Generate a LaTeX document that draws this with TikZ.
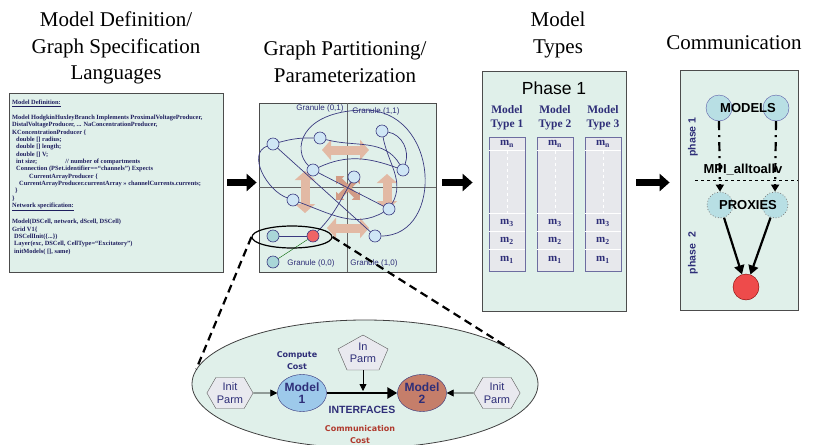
\documentclass[tikz,border=0pt]{standalone}
\usepackage{fontspec}
\setmainfont{Liberation Serif}
\setsansfont{Liberation Sans}
\newfontfamily\costfont{DejaVu Sans}
\usetikzlibrary{arrows.meta, shapes.geometric, shapes.symbols}
\definecolor{panel}{HTML}{E0F0EA}
\definecolor{navy}{HTML}{2E2E78}
\definecolor{codeblue}{HTML}{1E1E5E}
\definecolor{edge}{HTML}{3A3A80}
\definecolor{cellblue}{HTML}{CFE6F5}
\definecolor{cellteal}{HTML}{A9D6D8}
\definecolor{cellred}{HTML}{F06466}
\definecolor{colgray}{HTML}{E7E8EC}
\definecolor{swirl}{HTML}{E2B9A4}
\definecolor{swirldark}{HTML}{D29C86}
\definecolor{modelone}{HTML}{9DC9EA}
\definecolor{modeltwo}{HTML}{C57E6A}
\definecolor{parmgray}{HTML}{E9E9EF}
\definecolor{commblue}{HTML}{B8DFE4}
\definecolor{commred}{HTML}{EE4B4B}
\definecolor{costred}{HTML}{B03A2E}
\tikzset{
    panelbox/.style = {draw = black!70, fill = panel, line width = 0.8pt, inner sep = 0pt},
    title/.style = {font = \fontsize{21}{26.5}\selectfont, align = center},
    bigarrow/.style = {line width = 7pt, -{Triangle[length = 10pt, width = 17pt]}},
    cell/.style = {circle, draw = edge, fill = cellblue, minimum size = 12pt, inner sep = 0pt, line width = 0.6pt},
    link/.style = {draw = edge, line width = 0.7pt},
    granule/.style = {font = \sffamily\fontsize{8}{9}\selectfont, text = navy},
    swirlarrow/.style = {draw = swirl, line width = 9pt, {Triangle[length = 9pt, width = 20pt]}-{Triangle[length = 9pt, width = 20pt]}},
    typehead/.style = {font = \bfseries\fontsize{11.5}{14}\selectfont, text = navy, align = center},
    mlabel/.style = {font = \bfseries\fontsize{11}{12}\selectfont, text = navy},
    colbox/.style = {draw = navy!70, fill = colgray, minimum width = 36pt, minimum height = 134pt, inner sep = 0pt, line width = 0.6pt},
    commcircle/.style = {circle, draw = gray!70!blue, fill = commblue, minimum size = 26pt, inner sep = 0pt},
    commtext/.style = {font = \sffamily\bfseries\fontsize{13}{14}\selectfont},
    phaselabel/.style = {font = \sffamily\bfseries\fontsize{10.5}{12}\selectfont, text = navy, rotate = 90},
    dashlink/.style = {line width = 2.2pt, dash pattern = on 9pt off 5pt on 2pt off 5pt, -{Triangle[length = 7pt, width = 8pt]}},
    solidlink/.style = {line width = 2.2pt, -{Triangle[length = 9pt, width = 10pt]}},
    parmbox/.style = {signal, signal to = east and west, signal pointer angle = 120, draw = black!65, fill = parmgray, minimum width = 44pt, minimum height = 31pt, inner sep = 1pt, font = \sffamily\fontsize{11}{12.5}\selectfont, text = navy, align = center},
    modelnode/.style = {ellipse, draw = navy, minimum width = 42pt, minimum height = 37pt, inner sep = 0pt, font = \sffamily\bfseries\fontsize{12}{12.5}\selectfont, text = navy, align = center},
    thinarrow/.style = {line width = 0.8pt, -{Triangle[length = 7pt, width = 7pt]}},
    costtext/.style = {font = \costfont\bfseries\fontsize{8}{12}\selectfont, align = center},
    zoomline/.style = {line width = 2.2pt, dash pattern = on 8pt off 5pt}
}
\begin{document}
\begin{tikzpicture}[x = 1pt, y = -1pt]
    \useasboundingbox (0,0) rectangle (815,445);
    \node[title] (titledef) at (116,48) {Model Definition/\\Graph Specification\\Languages};
    \node[title] (titlepart) at (345,62) {Graph Partitioning/\\Parameterization};
    \node[title] (titletypes) at (558,35) {Model\\Types};
    \node[title] (titlecomm) at (734,43) {Communication};

    \node[panelbox, minimum width = 214pt, minimum height = 179pt] (codebox) at (116,182.5) {};
    \node[anchor = north west, inner sep = 0pt, align = left, text = codeblue, font = \bfseries\fontsize{6.4}{7.35}\selectfont] (code) at (12,100) {%
        \underline{Model Definition:}\\[7.35pt]
        Model HodgkinHuxleyBranch Implements ProximalVoltageProducer,\\
        DistalVoltageProducer, ... NaConcentrationProducer,\\
        KConcentrationProducer \{\\
        \hspace*{4pt}double [] radius;\\
        \hspace*{4pt}double [] length;\\
        \hspace*{4pt}double [] V;\\
        \hspace*{4pt}int size;\hspace*{28pt}// number of compartments\\
        \hspace*{4pt}Connection (PSet.identifier==``channels'') Expects\\
        \hspace*{17pt}CurrentArrayProducer \{\\
        \hspace*{7pt}CurrentArrayProducer.currentArray >> channelCurrents.currents;\\
        \hspace*{3pt}\}\\
        \}\\
        \underline{Network specification:}\\[7.35pt]
        Model(DSCell, network, dScell, DSCell)\\
        Grid V1\{\\
        \hspace*{2pt}DSCellInit(\{...\})\\
        \hspace*{2pt}Layer(exc, DSCell, CellType=``Excitatory'')\\
        \hspace*{2pt}initModels( [], same)};

    \node[panelbox, minimum width = 177pt, minimum height = 169pt] (graphbox) at (347.5,187.5) {};
    \draw[style = thin, black!60] (347,103) -- (347,272);
    \draw[style = thin, black!60] (graphbox.west) -- (graphbox.east);
    \begin{scope}
        \draw[swirlarrow] (322,150) -- (369,150);
        \draw[swirlarrow] (387,174) -- (387,210);
        \draw[swirlarrow] (327,228) -- (369,228);
        \draw[swirlarrow] (305,171) -- (305,213);
        \foreach \a in {45, 135, 225, 315}
            \draw[draw = swirldark, line width = 5pt, -{Triangle[length = 6pt, width = 11pt]}] (348,188) -- ++(\a:17);
    \end{scope}
    \foreach \n/\x/\y in {ga/273/144, gb/320/138, gc/382/131, gd/313/170, ge/403/170, gf/354/177, gg/293/200, gh/389/209, gi/375/236}
        \node[cell] (\n) at (\x,\y) {};
    \node[cell, fill = cellteal] (tla) at (273,236) {};
    \node[cell, fill = cellred] (tred) at (313,236) {};
    \node[cell, fill = cellteal] (tlb) at (273,262) {};
    \draw[link] (ga) -- (gi);
    \draw[link] (gd) -- (gh);
    \draw[link] (ga) to[bend left = 8] (gb);
    \draw[link] (ga) to[out = 200, in = 160] (gg);
    \draw[link] (gd) to[out = 25, in = 160] (ge);
    \draw[link] (gb) to[out = -15, in = 120] (ge);
    \draw[link] (tred) to[out = 45, in = -120] (gf);
    \draw[link] (gg) to[out = -20, in = -150] (gh);
    \draw[link] (gc) to[out = -80, in = 60] (gh);
    \draw[link] (gc) to[out = -10, in = 70] (ge);
    \draw[link] (gi) .. controls (445,236) and (440,108) .. (362,110) .. controls (300,112) and (292,150) .. (gd);
    \draw[link] (tla) -- (tred);
    \draw[style = thin, black!60!green] (tlb) -- (tred);
    \node[granule] (gl01) at (320,108) {Granule (0,1)};
    \node[granule] (gl11) at (376,111) {Granule (1,1)};
    \node[granule] (gl00) at (311,263) {Granule (0,0)};
    \node[granule] (gl10) at (374,263) {Granule (1,0)};
    \node[ellipse, draw, line width = 1.2pt, minimum width = 80pt, minimum height = 22pt, inner sep = 0pt] (focus) at (292,237) {};

    \node[panelbox, minimum width = 144pt, minimum height = 240pt] (typesbox) at (554,191) {};
    \node[font = \sffamily\fontsize{17.5}{19}\selectfont] (phaseone) at (554,88) {Phase 1};
    \foreach \i in {1, 2, 3} {
        \pgfmathsetmacro{\cx}{507 + 48*(\i - 1)}
        \node[typehead] (head\i) at (\cx,118) {Model\\Type \i};
        \node[colbox] (col\i) at (\cx,204) {};
        \foreach \r in {14, 77, 95, 113}
            \draw[white, line width = 0.8pt] ([xshift = 0.5pt, yshift = -\r pt]col\i.north west) -- ([xshift = -0.5pt, yshift = -\r pt]col\i.north east);
        \draw[white, dashed, line width = 0.6pt] ([yshift = -14pt]col\i.north) -- ([yshift = -77pt]col\i.north);
        \node[mlabel] (mn\i) at (\cx,144) {m\textsubscript{n}};
        \node[mlabel] (mc\i) at (\cx,223) {m\textsubscript{3}};
        \node[mlabel] (mb\i) at (\cx,241) {m\textsubscript{2}};
        \node[mlabel] (ma\i) at (\cx,260) {m\textsubscript{1}};
    }

    \node[panelbox, minimum width = 118pt, minimum height = 240pt] (commbox) at (739,190) {};
    \node[commcircle] (mleft) at (719,108) {};
    \node[commcircle] (mright) at (776,108) {};
    \node[commtext] (models) at (748,108) {MODELS};
    \node[commcircle, draw = gray, dotted, thick] (pleft) at (720,205) {};
    \node[commcircle, draw = gray, dotted, thick] (pright) at (775,205) {};
    \node[commtext] (proxies) at (748,205) {PROXIES};
    \node[circle, draw = red!50!black, fill = commred, minimum size = 26pt, inner sep = 0pt] (target) at (746,287) {};
    \draw[dashlink] (mleft.south) -- (pleft.north);
    \draw[dashlink] (mright.south) -- (pright.north);
    \coordinate (splitl) at (695,180);
    \draw[dashed] (splitl) -- (splitl -| commbox.east);
    \node[commtext] (mpi) at (743,170) {MPI\_alltoallv};
    \draw[solidlink] (pleft) -- (target);
    \draw[solidlink] (pright) -- (target);
    \node[phaselabel] (phasea) at (693,137) {phase 1};
    \node[phaselabel] (phaseb) at (693,253) {phase\ \ 2};

    \draw[bigarrow] ([xshift = 4pt]codebox.east) -- ([xshift = -2pt]codebox.east -| graphbox.west);
    \draw[bigarrow] ([xshift = 6pt]codebox.east -| graphbox.east) -- ([xshift = -9pt]codebox.east -| typesbox.west);
    \draw[bigarrow] ([xshift = 10pt]codebox.east -| typesbox.east) -- ([xshift = -10pt]codebox.east -| commbox.west);

    \node[ellipse, draw = black!75, fill = panel, line width = 0.8pt, minimum width = 346pt, minimum height = 128pt] (bigoval) at (365,384) {};
    \draw[zoomline] (focus.west) -- (bigoval.175);
    \draw[zoomline] (focus.east) -- (bigoval.14);
    \node[parmbox] (initl) at (230,393) {Init\\Parm};
    \node[parmbox] (initr) at (497,393) {Init\\Parm};
    \node[modelnode, fill = modelone] (modela) at (302,393) {Model\\1};
    \node[modelnode, fill = modeltwo] (modelb) at (422,393) {Model\\2};
    \coordinate (inparmc) at (363,353);
    \filldraw[draw = black!65, fill = parmgray] ([shift = {(0,-18)}]inparmc) -- ([shift = {(25,-4)}]inparmc) -- ([shift = {(16,17)}]inparmc) -- ([shift = {(-16,17)}]inparmc) -- ([shift = {(-25,-4)}]inparmc) -- cycle;
    \node[minimum width = 32pt, minimum height = 34pt, inner sep = 0pt, font = \sffamily\fontsize{11}{12.5}\selectfont, text = navy, align = center] (inparm) at (inparmc) {In\\Parm};
    \draw[thinarrow] (initl) -- (modela);
    \draw[thinarrow] (initr) -- (modelb);
    \draw[line width = 2.5pt, -{Triangle[length = 10pt, width = 11pt]}] (modela) -- (modelb);
    \draw[thinarrow] (inparm.south) -- ([yshift = 2pt]inparm.south |- modela.center);
    \node[costtext, text = navy] (compute) at (297,361) {Compute\\Cost};
    \node[font = \sffamily\bfseries\fontsize{10.5}{12}\selectfont, text = navy] (interfaces) at (362,410) {INTERFACES};
    \node[costtext, text = costred] (commcost) at (360,435) {Communication\\Cost};
\end{tikzpicture}
\end{document}
